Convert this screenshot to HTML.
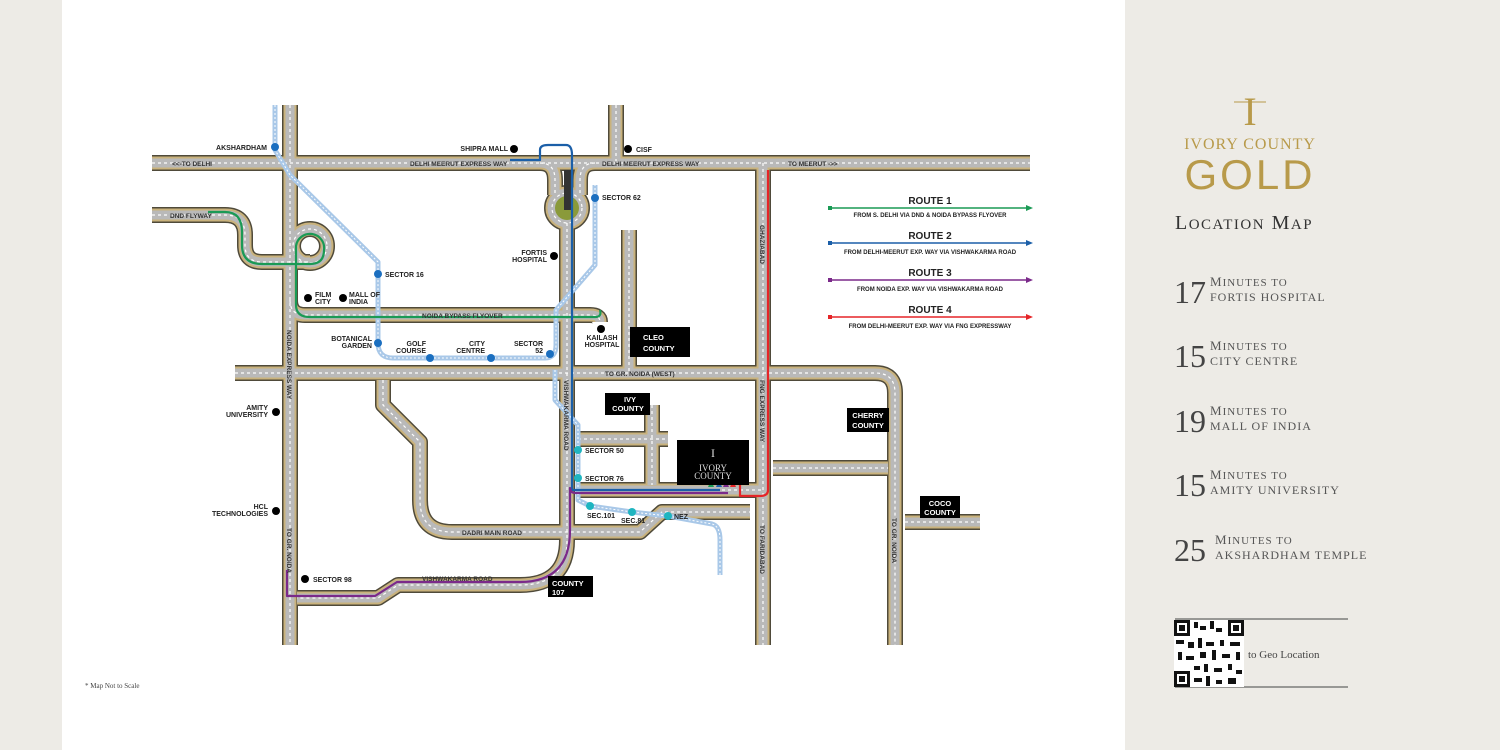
<!DOCTYPE html>
<html><head><meta charset="utf-8"><style>
body{margin:0;width:1500px;height:750px;overflow:hidden;background:#ecebe6;font-family:"Liberation Sans",sans-serif}
svg{position:absolute;left:0;top:0}
</style></head><body>
<svg width="1500" height="750" viewBox="0 0 1500 750">
<rect x="0" y="0" width="1500" height="750" fill="#edebe6"/>
<rect x="62" y="0" width="1063" height="750" fill="#ffffff"/>
<defs>
<g id="roads">
<path d="M152 163H1030"/>
<path d="M290 105V645"/>
<path d="M616 105V163"/>
<path d="M152 215H225Q245 215 245 235V245Q245 262 262 262H310"/>
<circle cx="310" cy="246" r="17"/>
<path d="M290 300Q290 315 305 315H590Q600 315 600 322"/>
<path d="M629 230V373"/>
<path d="M540 163Q555 163 555 180V195"/>
<path d="M595 163Q580 163 580 180V195"/>
<circle cx="567" cy="208" r="15"/>
<path d="M567 223V540Q567 585 520 585H398L378 598H297"/>
<path d="M235 373H875Q895 373 895 393V645"/>
<path d="M763 163V645"/>
<path d="M773 468H888"/>
<path d="M905 522H980"/>
<path d="M383 380V405L420 442V500Q420 532 452 532H640L662 512H750"/>
<path d="M578 439H668"/>
<path d="M652 405V485"/>
<path d="M578 490H763"/>
</g>
</defs>
<g fill="none" stroke-linejoin="round">
<use href="#roads" stroke="#4f4a3a" stroke-width="16"/>
<use href="#roads" stroke="#c9b27c" stroke-width="13"/>
<use href="#roads" stroke="#b9b9b9" stroke-width="9"/>
<use href="#roads" stroke="#ffffff" stroke-width="1.2" stroke-dasharray="3 3"/>
</g>
<circle cx="567" cy="208" r="12" fill="#8a9a3a"/>
<rect x="564" y="170" width="8" height="40" fill="#333"/>
<g fill="none" stroke-linejoin="round">
<g stroke="#a9c8e8" stroke-width="5">
<path d="M275 105V150L290 175L378 262V343Q378 358 393 358H545Q556 358 556 345V310L595 265V185"/>
<path d="M555 370V400L578 425V500L590 506L632 512L668 516L712 524Q720 526 720 540V575"/>
</g>
<g stroke="#ffffff" stroke-width="1" stroke-dasharray="2 2">
<path d="M275 105V150L290 175L378 262V343Q378 358 393 358H545Q556 358 556 345V310L595 265V185"/>
<path d="M555 370V400L578 425V500L590 506L632 512L668 516L712 524Q720 526 720 540V575"/>
</g>
</g>
<g fill="none" stroke-width="2.2" stroke-linejoin="round">
<path d="M208 212H225Q242 212 242 232V245Q242 264 262 264H310Q324 264 324 250A14 14 0 0 0 296 246V305Q296 317 310 317H595Q602 317 600 310" stroke="#1a9a55"/>
<path d="M510 160H540V150Q540 145 548 145H566Q572 145 572 155V490H720" stroke="#1b5fa8"/>
<path d="M287 570V596H375L397 582H520Q570 582 570 530V488Q570 493 576 493H728" stroke="#7b2a8a"/>
<path d="M768 170V490Q768 496 760 496H740V485" stroke="#e52528"/>
</g>
<path d="M708 487l3-7 3 7z" fill="#1a9a55"/><path d="M716 487l3-7 3 7z" fill="#1b5fa8"/><path d="M723 487l3-7 3 7z" fill="#7b2a8a"/><path d="M730 487l3-7 3 7z" fill="#e52528"/>
<g fill="#000"><rect x="630" y="327" width="60" height="30"/><rect x="605" y="393" width="45" height="22"/><rect x="847" y="408" width="42" height="24"/><rect x="920" y="496" width="40" height="22"/><rect x="548" y="576" width="45" height="21"/><rect x="677" y="440" width="72" height="45"/></g>
<g font-size="7.5" font-weight="bold" fill="#fff">
<text x="643" y="340">CLEO</text><text x="643" y="351">COUNTY</text>
<text x="630" y="402" text-anchor="middle">IVY</text><text x="628" y="411" text-anchor="middle">COUNTY</text>
<text x="868" y="418" text-anchor="middle">CHERRY</text><text x="868" y="428" text-anchor="middle">COUNTY</text>
<text x="940" y="506" text-anchor="middle">COCO</text><text x="940" y="515" text-anchor="middle">COUNTY</text>
<text x="552" y="586">COUNTY</text><text x="552" y="595">107</text>
</g>
<g font-family="Liberation Serif,serif" fill="#ddd" text-anchor="middle"><text x="713" y="471" font-size="9">IVORY</text><text x="713" y="479" font-size="9">COUNTY</text><text x="713" y="457" font-size="12">I</text></g>
<g fill="#1b6fc0"><circle cx="275" cy="147" r="4"/><circle cx="378" cy="274" r="4"/><circle cx="378" cy="343" r="4"/><circle cx="430" cy="358" r="4"/><circle cx="491" cy="358" r="4"/><circle cx="550" cy="354" r="4"/><circle cx="595" cy="198" r="4"/></g>
<g fill="#1fb5c0"><circle cx="578" cy="450" r="4"/><circle cx="578" cy="478" r="4"/><circle cx="590" cy="506" r="4"/><circle cx="632" cy="512" r="4"/><circle cx="668" cy="516" r="4"/></g>
<g fill="#000"><circle cx="514" cy="149" r="4"/><circle cx="628" cy="149" r="4"/><circle cx="554" cy="256" r="4"/><circle cx="308" cy="298" r="4"/><circle cx="343" cy="298" r="4"/><circle cx="601" cy="329" r="4"/><circle cx="276" cy="412" r="4"/><circle cx="276" cy="511" r="4"/><circle cx="305" cy="579" r="4"/></g>
<g font-size="7" font-weight="bold" fill="#222">
<text x="267" y="150" text-anchor="end">AKSHARDHAM</text>
<text x="508" y="151" text-anchor="end">SHIPRA MALL</text>
<text x="636" y="152">CISF</text>
<text x="602" y="200">SECTOR 62</text>
<text x="547" y="255" text-anchor="end">FORTIS</text><text x="547" y="262" text-anchor="end">HOSPITAL</text>
<text x="385" y="277">SECTOR 16</text>
<text x="315" y="297">FILM</text><text x="315" y="304">CITY</text>
<text x="349" y="297">MALL OF</text><text x="349" y="304">INDIA</text>
<text x="372" y="341" text-anchor="end">BOTANICAL</text><text x="372" y="348" text-anchor="end">GARDEN</text>
<text x="426" y="346" text-anchor="end">GOLF</text><text x="426" y="353" text-anchor="end">COURSE</text>
<text x="485" y="346" text-anchor="end">CITY</text><text x="485" y="353" text-anchor="end">CENTRE</text>
<text x="543" y="346" text-anchor="end">SECTOR</text><text x="543" y="353" text-anchor="end">52</text>
<text x="602" y="340" text-anchor="middle">KAILASH</text><text x="602" y="347" text-anchor="middle">HOSPITAL</text>
<text x="268" y="410" text-anchor="end">AMITY</text><text x="268" y="417" text-anchor="end">UNIVERSITY</text>
<text x="268" y="509" text-anchor="end">HCL</text><text x="268" y="516" text-anchor="end">TECHNOLOGIES</text>
<text x="313" y="582">SECTOR 98</text>
<text x="585" y="453">SECTOR 50</text>
<text x="585" y="481">SECTOR 76</text>
<text x="587" y="518">SEC.101</text>
<text x="621" y="523">SEC.81</text>
<text x="674" y="519">NEZ</text>
</g>
<g font-size="6.5" font-weight="bold" fill="#333">
<text x="172" y="166">&lt;&lt;-TO DELHI</text>
<text x="410" y="166">DELHI MEERUT EXPRESS WAY</text>
<text x="602" y="166">DELHI MEERUT EXPRESS WAY</text>
<text x="788" y="166">TO MEERUT -&gt;&gt;</text>
<text x="170" y="218">DND FLYWAY</text>
<text x="422" y="318">NOIDA BYPASS FLYOVER</text>
<text x="605" y="376">TO GR. NOIDA (WEST)</text>
<text x="462" y="535">DADRI MAIN ROAD</text>
<text x="422" y="581">VISHWAKARMA ROAD</text>
<text transform="translate(287 330) rotate(90)">NOIDA EXPRESS WAY</text>
<text transform="translate(287 528) rotate(90)">TO GR. NOIDA</text>
<text transform="translate(564 380) rotate(90)">VISHWAKARMA ROAD</text>
<text transform="translate(760 225) rotate(90)">GHAZIABAD</text>
<text transform="translate(760 380) rotate(90)">FNG EXPRESS WAY</text>
<text transform="translate(760 525) rotate(90)">TO FARIDABAD</text>
<text transform="translate(892 518) rotate(90)">TO GR. NOIDA</text>
</g>
<g font-weight="bold" text-anchor="middle" fill="#222">
<text x="930" y="204" font-size="10">ROUTE 1</text><text x="930" y="217" font-size="6">FROM S. DELHI VIA  DND &amp; NOIDA BYPASS FLYOVER</text>
<text x="930" y="239" font-size="10">ROUTE 2</text><text x="930" y="254" font-size="6">FROM DELHI-MEERUT EXP. WAY  VIA VISHWAKARMA ROAD</text>
<text x="930" y="276" font-size="10">ROUTE 3</text><text x="930" y="291" font-size="6">FROM NOIDA EXP. WAY  VIA VISHWAKARMA ROAD</text>
<text x="930" y="313" font-size="10">ROUTE 4</text><text x="930" y="328" font-size="6">FROM DELHI-MEERUT EXP. WAY VIA FNG EXPRESSWAY</text>
</g>
<g stroke-width="1.5">
<line x1="830" y1="208" x2="1028" y2="208" stroke="#1a9a55"/><rect x="828" y="206" width="4" height="4" fill="#1a9a55"/><path d="M1026 205l7 3-7 3z" fill="#1a9a55"/>
<line x1="830" y1="243" x2="1028" y2="243" stroke="#1b5fa8"/><rect x="828" y="241" width="4" height="4" fill="#1b5fa8"/><path d="M1026 240l7 3-7 3z" fill="#1b5fa8"/>
<line x1="830" y1="280" x2="1028" y2="280" stroke="#7b2a8a"/><rect x="828" y="278" width="4" height="4" fill="#7b2a8a"/><path d="M1026 277l7 3-7 3z" fill="#7b2a8a"/>
<line x1="830" y1="317" x2="1028" y2="317" stroke="#e52528"/><rect x="828" y="315" width="4" height="4" fill="#e52528"/><path d="M1026 314l7 3-7 3z" fill="#e52528"/>
</g>
<text x="85" y="688" font-size="7" fill="#444" font-family="Liberation Serif,serif">* Map Not to Scale</text>
<g fill="#b89a4a" font-family="Liberation Serif,serif" text-anchor="middle">
<text x="1250" y="125" font-size="40">I</text>
<line x1="1234" y1="102" x2="1266" y2="102" stroke="#b89a4a"/>
<text x="1250" y="149" font-size="16" letter-spacing="1">IVORY COUNTY</text>
<text x="1250" y="189" font-size="42" letter-spacing="3" font-family="Liberation Sans,sans-serif">GOLD</text>
</g>
<g font-family="Liberation Serif,serif" fill="#333">
<text x="1175" y="229" font-size="20" letter-spacing="1.5">L<tspan font-size="15">OCATION</tspan> M<tspan font-size="15">AP</tspan></text>
<g font-size="32" fill="#444">
<text x="1174" y="303">17</text><text x="1174" y="367">15</text><text x="1174" y="432">19</text><text x="1174" y="496">15</text><text x="1174" y="561">25</text>
</g>
<g font-size="13" fill="#555" letter-spacing="1">
<text x="1210" y="286">M<tspan font-size="11">INUTES TO</tspan></text><text x="1210" y="301" font-size="12">FORTIS HOSPITAL</text>
<text x="1210" y="350">M<tspan font-size="11">INUTES TO</tspan></text><text x="1210" y="365" font-size="12">CITY CENTRE</text>
<text x="1210" y="415">M<tspan font-size="11">INUTES TO</tspan></text><text x="1210" y="430" font-size="12">MALL OF INDIA</text>
<text x="1210" y="479">M<tspan font-size="11">INUTES TO</tspan></text><text x="1210" y="494" font-size="12">AMITY UNIVERSITY</text>
<text x="1215" y="544">M<tspan font-size="11">INUTES TO</tspan></text><text x="1215" y="559" font-size="12">AKSHARDHAM TEMPLE</text>
</g>
<line x1="1175" y1="619" x2="1348" y2="619" stroke="#444"/>
<line x1="1175" y1="687" x2="1348" y2="687" stroke="#444"/>
<text x="1248" y="658" font-size="11" fill="#444">to Geo Location</text>
</g>
<g fill="#111">
<rect x="1174" y="620" width="70" height="67" fill="#fff"/>
<rect x="1174" y="620" width="16" height="16"/><rect x="1177" y="623" width="10" height="10" fill="#fff"/><rect x="1179" y="625" width="6" height="6"/>
<rect x="1228" y="620" width="16" height="16"/><rect x="1231" y="623" width="10" height="10" fill="#fff"/><rect x="1233" y="625" width="6" height="6"/>
<rect x="1174" y="671" width="16" height="16"/><rect x="1177" y="674" width="10" height="10" fill="#fff"/><rect x="1179" y="676" width="6" height="6"/>
<rect x="1194" y="622" width="4" height="6"/><rect x="1200" y="626" width="6" height="4"/><rect x="1210" y="621" width="4" height="8"/><rect x="1216" y="628" width="6" height="4"/>
<rect x="1176" y="640" width="8" height="4"/><rect x="1188" y="642" width="6" height="6"/><rect x="1198" y="638" width="4" height="10"/><rect x="1206" y="642" width="8" height="4"/><rect x="1220" y="640" width="4" height="6"/><rect x="1230" y="642" width="10" height="4"/>
<rect x="1178" y="652" width="4" height="8"/><rect x="1186" y="656" width="8" height="4"/><rect x="1200" y="652" width="6" height="6"/><rect x="1212" y="650" width="4" height="10"/><rect x="1222" y="654" width="8" height="4"/><rect x="1236" y="652" width="4" height="8"/>
<rect x="1194" y="666" width="6" height="4"/><rect x="1204" y="664" width="4" height="8"/><rect x="1214" y="668" width="8" height="4"/><rect x="1228" y="664" width="4" height="6"/><rect x="1236" y="670" width="6" height="4"/>
<rect x="1194" y="678" width="8" height="4"/><rect x="1206" y="676" width="4" height="10"/><rect x="1216" y="680" width="6" height="4"/><rect x="1228" y="678" width="8" height="6"/>
</g>
</svg>
</body></html>
